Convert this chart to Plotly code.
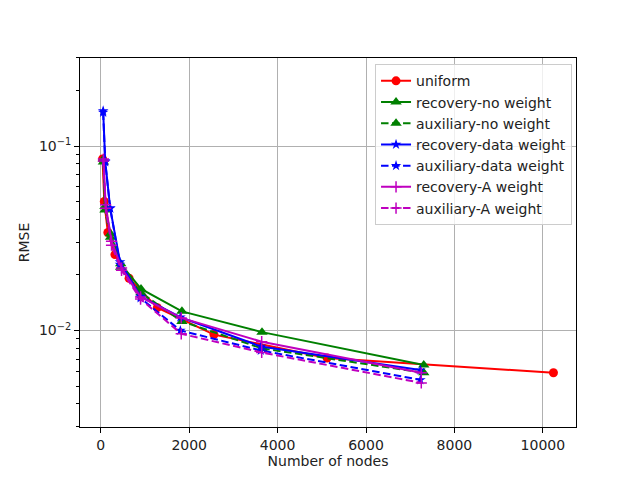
import plotly.graph_objects as go

# uniform refinement
uni_x = [40, 80, 160, 320, 640, 1280, 2560, 5120, 10240]
uni_y = [0.085, 0.050, 0.034, 0.0258, 0.0192, 0.0133, 0.0095, 0.0071, 0.0059]

# adaptive runs
rec_no_x = [60, 95, 220, 450, 910, 1836, 3647, 7306]
rec_no_y = [0.085, 0.047, 0.0335, 0.023, 0.0168, 0.0127, 0.0098, 0.0065]
aux_no_x = [60, 95, 220, 450, 910, 1836, 3647, 7306]
aux_no_y = [0.082, 0.045, 0.032, 0.022, 0.016, 0.0112, 0.0080, 0.0059]

rec_data_x = [54, 100, 213, 435, 900, 1800, 3620, 7230]
rec_data_y = [0.155, 0.083, 0.046, 0.0235, 0.0153, 0.0118, 0.0082, 0.0061]
aux_data_x = [54, 100, 213, 435, 900, 1800, 3620, 7230]
aux_data_y = [0.152, 0.082, 0.046, 0.0228, 0.0150, 0.0100, 0.0078, 0.0054]

rec_A_x = [60, 110, 243, 470, 900, 1820, 3640, 7250]
rec_A_y = [0.085, 0.048, 0.0305, 0.0218, 0.0152, 0.0117, 0.0087, 0.0059]
aux_A_x = [60, 110, 243, 470, 900, 1820, 3640, 7250]
aux_A_y = [0.083, 0.046, 0.029, 0.0212, 0.0148, 0.0096, 0.0076, 0.0052]

x_ticks = [0, 2000, 4000, 6000, 8000, 10000]
y_ticks = [0.01, 0.1]
y_ticklabels = ["10<sup>−2</sup>", "10<sup>−1</sup>"]
y_minor = [0.003, 0.004, 0.005, 0.006, 0.007, 0.008, 0.009,
           0.02, 0.03, 0.04, 0.05, 0.06, 0.07, 0.08, 0.09, 0.2, 0.3]

MAG = "#bf00bf"
DASH = "7.5px,3.5px"

def add(fig, x, y, name, color, symbol, dash="solid", size=9):
    mk = dict(color=color, symbol=symbol, size=size)
    if symbol == "cross-thin":
        mk["line"] = dict(color=color, width=1.5)
    fig.add_trace(go.Scatter(x=x, y=y, name=name, mode="lines+markers",
                             line=dict(color=color, width=2, dash=dash),
                             marker=mk))

fig = go.Figure()
add(fig, uni_x, uni_y, "uniform", "#ff0000", "circle")
add(fig, rec_no_x, rec_no_y, "recovery-no weight", "#008000", "triangle-up", size=10)
add(fig, aux_no_x, aux_no_y, "auxiliary-no weight", "#008000", "triangle-up", DASH, size=10)
add(fig, rec_data_x, rec_data_y, "recovery-data weight", "#0000ff", "star", size=8)
add(fig, aux_data_x, aux_data_y, "auxiliary-data weight", "#0000ff", "star", DASH, size=8)
add(fig, rec_A_x, rec_A_y, "recovery-A weight", MAG, "cross-thin", size=8)
add(fig, aux_A_x, aux_A_y, "auxiliary-A weight", MAG, "cross-thin", DASH, size=8)

# page body has an 8px margin, so shift the plot area up/left by 8px
fig.update_layout(
    width=640, height=480,
    margin=dict(l=72, r=72, t=50, b=61),
    plot_bgcolor="white", paper_bgcolor="white",
    font=dict(family="DejaVu Sans", size=14, color="#222222"),
    legend=dict(x=0.992, y=0.983, xanchor="right", yanchor="top",
                bgcolor="rgba(255,255,255,0.8)", bordercolor="#cccccc", borderwidth=1,
                itemwidth=30, font=dict(family="DejaVu Sans", size=14)),
)
fig.update_xaxes(title=dict(text="Number of nodes", standoff=4, font=dict(size=14)),
                 range=[-470, 10750], tickvals=x_ticks, ticktext=[str(v) for v in x_ticks],
                 tickfont=dict(size=14),
                 showline=True, linecolor="black", linewidth=1, mirror=True,
                 ticks="outside", ticklen=5, tickcolor="black",
                 showgrid=True, gridcolor="#b0b0b0", gridwidth=1, zeroline=False)
fig.update_yaxes(type="log", title=dict(text="RMSE", standoff=6, font=dict(size=14)),
                 range=[-2.523, -0.523],
                 tickvals=y_ticks, ticktext=y_ticklabels, tickfont=dict(size=14),
                 minor=dict(tickvals=y_minor, ticks="outside", ticklen=3,
                            tickcolor="black", showgrid=False),
                 showline=True, linecolor="black", linewidth=1, mirror=True,
                 ticks="outside", ticklen=5, tickcolor="black",
                 showgrid=True, gridcolor="#b0b0b0", gridwidth=1, zeroline=False)

fig.write_html("out.html")
